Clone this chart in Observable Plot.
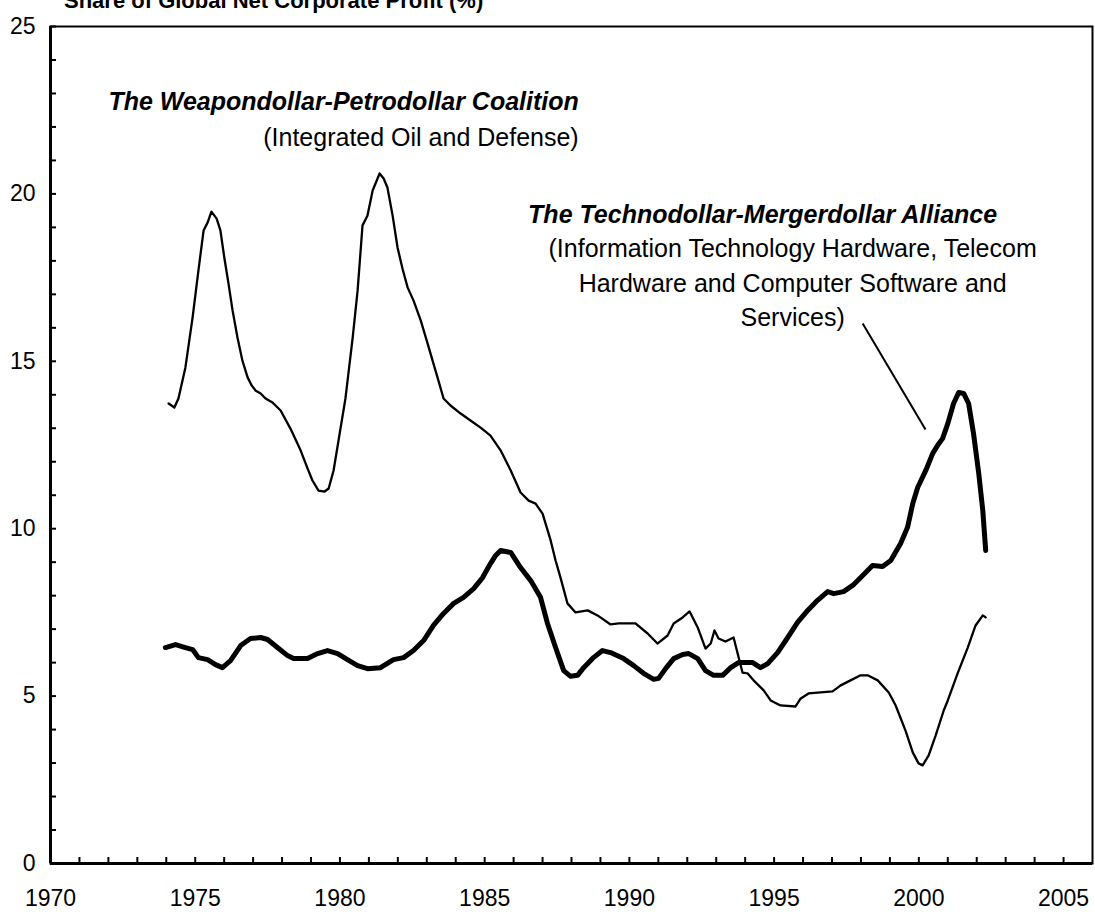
<!DOCTYPE html>
<html><head><meta charset="utf-8">
<script src="https://cdn.jsdelivr.net/npm/d3@7"></script>
<script src="https://cdn.jsdelivr.net/npm/@observablehq/plot@0.6"></script>
<style>
body{margin:0;background:#fff;font-family:"Liberation Sans",Arial,sans-serif;}
#wrap{position:relative;width:1095px;height:915px;overflow:hidden;background:#fff;}
#title{position:absolute;left:64px;top:-10px;font-size:22px;line-height:22px;font-weight:bold;white-space:nowrap;z-index:2;color:#000;}
#chart{position:absolute;left:0;top:0;}
</style></head><body>
<div id="wrap"><div id="chart"></div><div id="title">Share of Global Net Corporate Profit (%)</div></div>
<script>
// Weapondollar-Petrodollar Coalition (Integrated Oil and Defense), % of global net corporate profit
const weaponYears = [1974.08,1974.28,1974.42,1974.66,1974.91,1975.11,1975.29,1975.43,1975.56,1975.74,1975.87,1976.01,1976.15,1976.29,1976.46,1976.63,1976.81,1976.95,1977.08,1977.26,1977.43,1977.67,1977.95,1978.29,1978.64,1978.88,1979.05,1979.26,1979.47,1979.61,1979.78,1979.95,1980.19,1980.44,1980.61,1980.78,1980.95,1981.13,1981.37,1981.51,1981.64,1981.82,1981.99,1982.16,1982.34,1982.54,1982.79,1983.03,1983.20,1983.37,1983.58,1983.82,1984.17,1984.51,1984.86,1985.20,1985.55,1985.90,1986.24,1986.52,1986.76,1987.00,1987.28,1987.45,1987.62,1987.86,1988.14,1988.56,1988.90,1989.35,1989.63,1990.21,1990.63,1990.97,1991.32,1991.53,1991.84,1992.08,1992.36,1992.63,1992.81,1992.94,1993.08,1993.32,1993.60,1993.74,1993.91,1994.08,1994.29,1994.64,1994.88,1995.22,1995.74,1995.92,1996.19,1996.61,1997.02,1997.30,1997.64,1997.99,1998.23,1998.58,1998.96,1999.20,1999.54,1999.79,1999.99,2000.13,2000.34,2000.58,2000.86,2001.00,2001.34,2001.69,2001.96,2002.21,2002.31];
const weaponValues = [13.74,13.62,13.89,14.81,16.31,17.71,18.91,19.15,19.47,19.26,18.91,18.07,17.32,16.52,15.71,15.02,14.52,14.28,14.13,14.04,13.89,13.77,13.53,12.99,12.34,11.80,11.44,11.14,11.11,11.20,11.74,12.63,13.89,15.71,17.11,19.06,19.35,20.10,20.61,20.46,20.19,19.35,18.40,17.77,17.20,16.82,16.22,15.53,15.02,14.52,13.89,13.68,13.44,13.23,13.02,12.78,12.34,11.74,11.08,10.84,10.75,10.45,9.65,9.05,8.54,7.77,7.50,7.56,7.41,7.14,7.17,7.17,6.87,6.57,6.81,7.17,7.35,7.53,7.05,6.42,6.57,6.96,6.72,6.63,6.75,6.27,5.70,5.68,5.47,5.17,4.87,4.72,4.69,4.93,5.08,5.11,5.14,5.32,5.47,5.62,5.62,5.47,5.11,4.72,3.97,3.32,2.99,2.93,3.23,3.82,4.57,4.87,5.68,6.45,7.11,7.41,7.35];
// Technodollar-Mergerdollar Alliance (IT Hardware, Telecom Hardware, Software and Services)
const technoYears = [1973.97,1974.32,1974.66,1974.91,1975.11,1975.43,1975.70,1975.94,1976.22,1976.57,1976.91,1977.26,1977.50,1977.84,1978.19,1978.40,1978.88,1979.23,1979.57,1979.92,1980.26,1980.61,1980.95,1981.40,1981.85,1982.20,1982.54,1982.89,1983.23,1983.58,1983.93,1984.27,1984.62,1984.93,1985.20,1985.38,1985.55,1985.90,1986.24,1986.59,1986.93,1987.17,1987.45,1987.73,1987.97,1988.21,1988.42,1988.76,1989.07,1989.35,1989.80,1990.15,1990.49,1990.84,1991.01,1991.25,1991.53,1991.84,1992.05,1992.36,1992.63,1992.91,1993.22,1993.50,1993.77,1994.26,1994.53,1994.78,1995.12,1995.47,1995.81,1996.16,1996.50,1996.85,1997.06,1997.40,1997.75,1998.06,1998.40,1998.75,1999.03,1999.37,1999.61,1999.79,1999.96,2000.24,2000.48,2000.65,2000.82,2001.00,2001.20,2001.38,2001.55,2001.72,2001.89,2002.07,2002.21,2002.31];
const technoValues = [6.45,6.54,6.45,6.39,6.15,6.09,5.94,5.85,6.06,6.51,6.72,6.75,6.69,6.45,6.21,6.12,6.12,6.27,6.36,6.27,6.09,5.91,5.82,5.85,6.09,6.15,6.36,6.66,7.11,7.47,7.77,7.95,8.21,8.54,8.96,9.20,9.35,9.29,8.84,8.45,7.95,7.17,6.45,5.76,5.59,5.62,5.85,6.15,6.36,6.30,6.12,5.91,5.68,5.50,5.53,5.82,6.12,6.24,6.27,6.12,5.76,5.62,5.62,5.85,6.00,6.00,5.85,5.97,6.30,6.75,7.20,7.56,7.86,8.12,8.06,8.12,8.33,8.60,8.90,8.87,9.05,9.56,10.04,10.75,11.23,11.74,12.25,12.49,12.69,13.14,13.74,14.07,14.04,13.74,12.84,11.65,10.54,9.35];

const xLabelYears = [1970,1975,1980,1985,1990,1995,2000,2005];
const xMinorYears = d3.range(1970, 2006);
const yLabelValues = [0,5,10,15,20,25];
const yMinorValues = d3.range(0, 26);

// annotation texts (anchored in data units)
const weaponTitle = [{x:1972.0, y:22.73, text:"The Weapondollar-Petrodollar Coalition"}];
const weaponSub = [{x:1977.35, y:21.68, text:"(Integrated Oil and Defense)"}];
const technoTitle = [{x:1986.5, y:19.38, text:"The Technodollar-Mergerdollar Alliance"}];
const technoSub = [
  {x:1995.64, y:18.34, text:"(Information Technology Hardware, Telecom"},
  {x:1995.64, y:17.32, text:"Hardware and Computer Software and"},
  {x:1995.64, y:16.28, text:"Services)"}
];
const pointer = [{x1:1998.06, y1:16.13, x2:2000.23, y2:12.96}];

const weapon = weaponYears.map((d,i)=>({year:d, value:weaponValues[i]}));
const techno = technoYears.map((d,i)=>({year:d, value:technoValues[i]}));

const chart = Plot.plot({
  width: 1095,
  height: 915,
  marginLeft: 50,
  marginRight: 3,
  marginTop: 26,
  marginBottom: 52,
  style: {fontFamily: '"Liberation Sans", Arial, sans-serif', fontSize: "23px", color: "#000", background: "#fff"},
  x: {domain: [1970, 2006]},
  y: {domain: [0, 25]},
  marks: [
    Plot.frame({stroke: "#000", strokeWidth: 2}),
    Plot.axisX({ticks: xMinorYears, tickSize: -6, tickFormat: () => "", strokeWidth: 2, label: null}),
    Plot.axisX({ticks: xLabelYears, tickSize: 0, tickPadding: 26, tickFormat: d => String(d), label: null, fontSize: 23}),
    Plot.axisY({ticks: yMinorValues, tickSize: -6, tickFormat: () => "", strokeWidth: 2, label: null}),
    Plot.axisY({ticks: yLabelValues, tickSize: 0, tickPadding: 15, label: null, fontSize: 23}),
    Plot.ruleX([1970], {stroke: "#000", strokeWidth: 3}),
    Plot.ruleY([0], {stroke: "#000", strokeWidth: 3}),
    Plot.line(weapon, {x: "year", y: "value", stroke: "#000", strokeWidth: 2.3, strokeLinejoin: "round"}),
    Plot.line(techno, {x: "year", y: "value", stroke: "#000", strokeWidth: 5, strokeLinejoin: "round", strokeLinecap: "round"}),
    Plot.link(pointer, {x1: "x1", y1: "y1", x2: "x2", y2: "y2", stroke: "#000", strokeWidth: 2}),
    Plot.text(weaponTitle, {x: "x", y: "y", text: "text", textAnchor: "start", fontWeight: "bold", fontStyle: "italic", fontSize: 25, fill: "#000"}),
    Plot.text(weaponSub, {x: "x", y: "y", text: "text", textAnchor: "start", fontSize: 25, fill: "#000"}),
    Plot.text(technoTitle, {x: "x", y: "y", text: "text", textAnchor: "start", fontWeight: "bold", fontStyle: "italic", fontSize: 25, fill: "#000"}),
    Plot.text(technoSub, {x: "x", y: "y", text: "text", textAnchor: "middle", fontSize: 25, fill: "#000"})
  ]
});
document.getElementById("chart").appendChild(chart);
</script>
</body></html>
